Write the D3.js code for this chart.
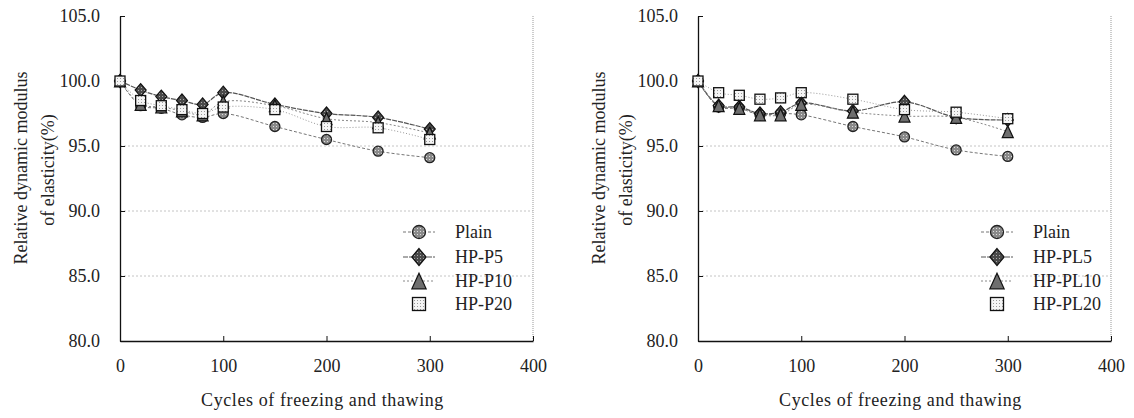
<!DOCTYPE html>
<html>
<head>
<meta charset="utf-8">
<script src="https://cdn.jsdelivr.net/npm/d3@7"></script>
<style>
  body { margin: 0; background: #fff; }
  svg text { font-family: "Liberation Serif", "Times New Roman", serif; fill: #222; }
</style>
</head>
<body>
<svg id="chart" width="1134" height="418"></svg>
<script>
// cycles of freezing and thawing
var cycles = [0, 20, 40, 60, 80, 100, 150, 200, 250, 300];
var xTicks = [0, 100, 200, 300, 400];
var yTicks = [80, 85, 90, 95, 100, 105];
var gridVals = [85, 90, 95];

// left chart
var namesLeft = ["Plain", "HP-P5", "HP-P10", "HP-P20"];
var plainL = [100, 98.1, 97.9, 97.4, 97.2, 97.5, 96.5, 95.5, 94.6, 94.1];
var hpP5 = [100, 99.3, 98.8, 98.5, 98.2, 99.1, 98.2, 97.5, 97.2, 96.3];
var hpP10 = [100, 98.2, 98.0, 97.7, 97.4, 98.4, 98.1, 97.1, 96.8, 96.0];
var hpP20 = [100, 98.5, 98.1, 97.8, 97.5, 98.0, 97.8, 96.5, 96.4, 95.5];

// right chart
var namesRight = ["Plain", "HP-PL5", "HP-PL10", "HP-PL20"];
var plainR = [100, 98.0, 97.9, 97.4, 97.5, 97.4, 96.5, 95.7, 94.7, 94.2];
var hpPL5 = [100, 98.1, 98.0, 97.5, 97.6, 98.3, 97.7, 98.4, 97.2, 97.0];
var hpPL10 = [100, 98.1, 97.9, 97.4, 97.4, 98.2, 97.6, 97.3, 97.2, 96.1];
var hpPL20 = [100, 99.1, 98.9, 98.6, 98.7, 99.1, 98.6, 97.8, 97.6, 97.1];

var svg = d3.select("#chart");

// fill patterns for the markers
var defs = svg.append("defs");
var sq = defs.append("pattern").attr("id", "sqPat").attr("patternUnits", "userSpaceOnUse")
    .attr("width", 3).attr("height", 3);
sq.append("rect").attr("width", 3).attr("height", 3).attr("fill", "#f4f4f4");
sq.append("rect").attr("width", 1).attr("height", 1).attr("fill", "#999");
var ci = defs.append("pattern").attr("id", "ciPat").attr("patternUnits", "userSpaceOnUse")
    .attr("width", 3).attr("height", 3);
ci.append("rect").attr("width", 3).attr("height", 3).attr("fill", "#8a8a8a");
ci.append("rect").attr("width", 1).attr("height", 1).attr("fill", "#ddd");
var dm = defs.append("pattern").attr("id", "dmPat").attr("patternUnits", "userSpaceOnUse")
    .attr("width", 3).attr("height", 3);
dm.append("rect").attr("width", 3).attr("height", 3).attr("fill", "#4a4a4a");
dm.append("rect").attr("width", 1).attr("height", 1).attr("fill", "#aaa");

var lineStyles = [
    {stroke: "#777", dash: "3,2", width: 1},
    {stroke: "#555", dash: "5,1", width: 1.2},
    {stroke: "#888", dash: "2,2", width: 1},
    {stroke: "#999", dash: "1,2", width: 1}
];

function drawMarker(g, kind, cx, cy, s){
    if(kind == 0){
        g.append("circle").attr("cx", cx).attr("cy", cy).attr("r", s * 0.5)
            .attr("fill", "url(#ciPat)").attr("stroke", "#222").attr("stroke-width", 1.3);
    }
    else if(kind == 1){
        var w = s * 0.55, h = s * 0.65;
        g.append("path")
            .attr("d", "M" + cx + "," + (cy - h) + "L" + (cx + w) + "," + cy + "L" + cx + "," + (cy + h) + "L" + (cx - w) + "," + cy + "Z")
            .attr("fill", "url(#dmPat)").attr("stroke", "#111").attr("stroke-width", 1.2);
    }
    else if(kind == 2){
        var w2 = s * 0.55, h2 = s * 0.6;
        g.append("path")
            .attr("d", "M" + cx + "," + (cy - h2) + "L" + (cx + w2) + "," + (cy + h2) + "L" + (cx - w2) + "," + (cy + h2) + "Z")
            .attr("fill", "#6e6e6e").attr("stroke", "#111").attr("stroke-width", 1.2);
    }
    else {
        g.append("rect").attr("x", cx - s / 2).attr("y", cy - s / 2).attr("width", s).attr("height", s)
            .attr("fill", "url(#sqPat)").attr("stroke", "#111").attr("stroke-width", 1.3);
    }
}

function drawPanel(opts){
    var x = d3.scaleLinear().domain([0, 400]).range([opts.x0, opts.x1]);
    var y = d3.scaleLinear().domain([80, 105]).range([341, 16]);
    var g = svg.append("g");

    // grid lines
    g.selectAll("line.grid").data(gridVals).enter().append("line")
        .attr("class", "grid")
        .attr("x1", x(0)).attr("x2", x(400))
        .attr("y1", function(d){ return y(d); }).attr("y2", function(d){ return y(d); })
        .attr("stroke", "#c4c4c4").attr("stroke-dasharray", "2,2").attr("stroke-width", 1);

    // plot frame right side
    g.append("line").attr("x1", x(400)).attr("x2", x(400)).attr("y1", y(105)).attr("y2", y(80))
        .attr("stroke", "#999").attr("stroke-dasharray", "1,1");

    var yAxis = d3.axisLeft(y).tickValues(yTicks).tickFormat(d3.format(".1f"))
        .tickSizeInner(-5).tickSizeOuter(0).tickPadding(20);
    var xAxis = d3.axisBottom(x).tickValues(xTicks).tickFormat(d3.format("d"))
        .tickSizeInner(-5).tickSizeOuter(0).tickPadding(18);

    var ya = g.append("g").attr("transform", "translate(" + x(0) + ",0)").call(yAxis);
    var xa = g.append("g").attr("transform", "translate(0," + y(80) + ")").call(xAxis);
    [ya, xa].forEach(function(a){
        a.select(".domain").attr("stroke", "#111").attr("stroke-width", 1.3);
        a.selectAll(".tick line").attr("stroke", "#111");
        a.selectAll("text").style("font-size", "18px").attr("fill", "#222")
            .style("font-family", "Liberation Serif");
    });

    // series lines
    var line = d3.line()
        .x(function(d, i){ return x(cycles[i]); })
        .y(function(d){ return y(d); })
        .curve(d3.curveCatmullRom.alpha(0.5));

    opts.series.forEach(function(vals, k){
        var st = lineStyles[k];
        g.append("path").datum(vals).attr("d", line)
            .attr("fill", "none").attr("stroke", st.stroke)
            .attr("stroke-width", st.width).attr("stroke-dasharray", st.dash);
    });
    opts.series.forEach(function(vals, k){
        vals.forEach(function(v, i){
            drawMarker(g, k, x(cycles[i]), y(v), 10);
        });
    });

    // legend
    var rows = [232, 257, 281, 304];
    opts.names.forEach(function(nm, k){
        var st = lineStyles[k];
        var mx = opts.x1 + opts.legendDx;
        if(k < 3){
            g.append("line").attr("x1", mx - 16).attr("x2", mx + 16)
                .attr("y1", rows[k]).attr("y2", rows[k])
                .attr("stroke", st.stroke).attr("stroke-dasharray", st.dash);
        }
        drawMarker(g, k, mx, rows[k], 13);
        g.append("text").attr("x", mx + 36).attr("y", rows[k]).attr("dy", "0.35em")
            .style("font-size", "18px").text(nm);
    });

    // axis titles
    g.append("text")
        .attr("x", (x(0) + x(400)) / 2 - 4).attr("y", 400).attr("dy", "0.35em")
        .style("text-anchor", "middle").style("font-size", "18px")
        .style("letter-spacing", "0.6px")
        .text("Cycles of freezing and thawing");

    g.append("text")
        .attr("transform", "translate(" + (x(0) - 99) + ",168) rotate(-90)")
        .attr("dy", "0.35em").style("text-anchor", "middle").style("font-size", "18px")
        .text("Relative dynamic modulus");
    g.append("text")
        .attr("transform", "translate(" + (x(0) - 72) + ",170) rotate(-90)")
        .attr("dy", "0.35em").style("text-anchor", "middle").style("font-size", "18px")
        .text("of elasticity(%)");
}

drawPanel({x0: 120, x1: 533, legendDx: -114, names: namesLeft, series: [plainL, hpP5, hpP10, hpP20]});
drawPanel({x0: 698, x1: 1111, legendDx: -114, names: namesRight, series: [plainR, hpPL5, hpPL10, hpPL20]});
</script>
</body>
</html>
